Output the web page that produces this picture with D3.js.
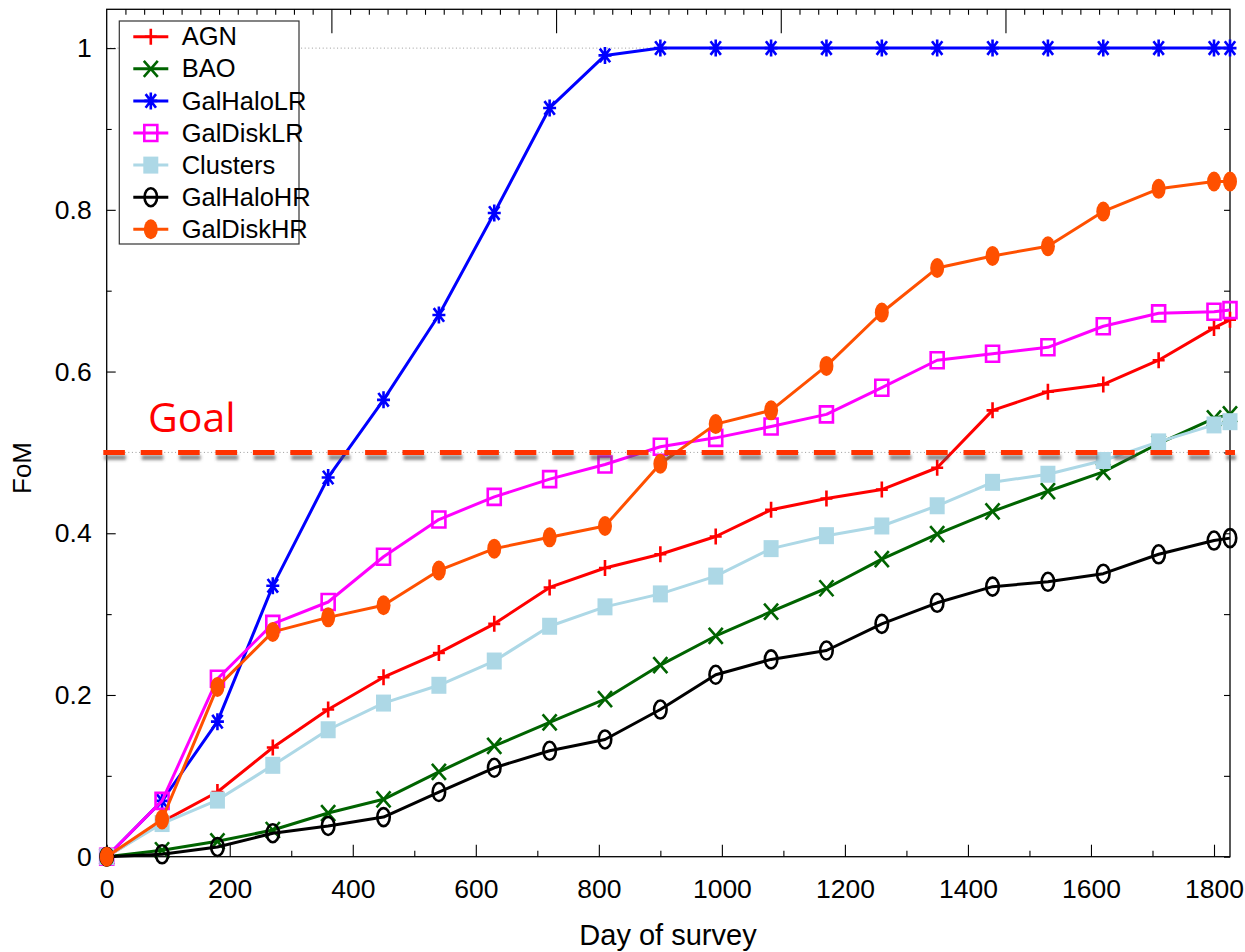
<!DOCTYPE html>
<html>
<head>
<meta charset="utf-8">
<script src="https://cdn.jsdelivr.net/npm/d3@7/dist/d3.min.js"></script>
<style>
  body { margin: 0; background: #fff; }
  svg { display: block; }
</style>
</head>
<body>
<svg id="chart" width="1245" height="952"></svg>
<script>
// Survey day at which each figure of merit was evaluated
const days = [0, 90, 180, 270, 360, 450, 540, 630, 720, 810, 900, 990, 1080, 1170, 1260, 1350, 1440, 1530, 1620, 1710, 1800, 1826];

// Figure of merit per science case
const agn       = [0, 0.043, 0.080, 0.135, 0.182, 0.222, 0.252, 0.288, 0.333, 0.357, 0.374, 0.396, 0.429, 0.443, 0.454, 0.481, 0.552, 0.575, 0.584, 0.614, 0.654, 0.664];
const bao       = [0, 0.008, 0.019, 0.033, 0.054, 0.071, 0.105, 0.137, 0.166, 0.195, 0.237, 0.273, 0.303, 0.332, 0.368, 0.399, 0.427, 0.452, 0.476, 0.511, 0.542, 0.547];
const galHaloLR = [0, 0.069, 0.167, 0.335, 0.469, 0.565, 0.670, 0.796, 0.926, 0.991, 1, 1, 1, 1, 1, 1, 1, 1, 1, 1, 1, 1];
const galDiskLR = [0, 0.069, 0.220, 0.288, 0.315, 0.371, 0.417, 0.445, 0.467, 0.485, 0.507, 0.518, 0.532, 0.547, 0.580, 0.614, 0.622, 0.630, 0.656, 0.672, 0.674, 0.676];
const clusters  = [0, 0.041, 0.070, 0.113, 0.157, 0.190, 0.212, 0.242, 0.285, 0.309, 0.325, 0.347, 0.381, 0.397, 0.409, 0.434, 0.463, 0.473, 0.490, 0.513, 0.534, 0.538];
const galHaloHR = [0, 0.003, 0.012, 0.029, 0.038, 0.049, 0.080, 0.110, 0.131, 0.145, 0.182, 0.225, 0.244, 0.255, 0.288, 0.314, 0.334, 0.340, 0.350, 0.374, 0.391, 0.394];
const galDiskHR = [0, 0.046, 0.210, 0.278, 0.296, 0.311, 0.354, 0.381, 0.395, 0.409, 0.486, 0.535, 0.552, 0.607, 0.673, 0.728, 0.743, 0.755, 0.798, 0.826, 0.835, 0.835];

const seriesNames = ["AGN", "BAO", "GalHaloLR", "GalDiskLR", "Clusters", "GalHaloHR", "GalDiskHR"];

// Axis ticks and labels
const xMajorTicks = [0, 200, 400, 600, 800, 1000, 1200, 1400, 1600, 1800];
const xMinorTicks = [100, 300, 500, 700, 900, 1100, 1300, 1500, 1700];
const yMajorTicks = [0, 0.2, 0.4, 0.6, 0.8, 1];
const yTickLabels = ["0", "0.2", "0.4", "0.6", "0.8", "1"];
const yMinorTicks = [0.1, 0.3, 0.5, 0.7, 0.9];
const goalValue = 0.5;
const surveyYears = 5;

// Style per series
const styles = {
  AGN:       { color: "#ff0000", marker: "plus",         w: 12, h: 16 },
  BAO:       { color: "#006400", marker: "cross",        w: 14, h: 16 },
  GalHaloLR: { color: "#0000ff", marker: "star",         w: 13, h: 17 },
  GalDiskLR: { color: "#ff00ff", marker: "openSquare",   w: 13, h: 16 },
  Clusters:  { color: "#add8e6", marker: "filledSquare", w: 15, h: 17 },
  GalHaloHR: { color: "#000000", marker: "openCircle",   w: 12.5, h: 18 },
  GalDiskHR: { color: "#ff5000", marker: "filledCircle", w: 14, h: 20 }
};

const seriesValues = [agn, bao, galHaloLR, galDiskLR, clusters, galHaloHR, galDiskHR];
const series = seriesNames.map((name, i) => ({
  name,
  points: days.map((d, j) => ({ day: d, v: seriesValues[i][j] })),
  ...styles[name]
}));

const svg = d3.select("#chart");
const plot = { left: 106.7, right: 1230, top: 9.3, bottom: 856.7 };

const x = d3.scaleLinear().domain([0, 1826]).range([plot.left, plot.right]);
const y = d3.scaleLinear().domain([0, 1.048]).range([plot.bottom, plot.top]);

// Soft drop shadow under the goal line
const defs = svg.append("defs");
const shadow = defs.append("filter").attr("id", "goalShadow")
  .attr("filterUnits", "userSpaceOnUse")
  .attr("x", 0).attr("y", y(goalValue) - 30).attr("width", 1245).attr("height", 60);
shadow.append("feGaussianBlur").attr("in", "SourceAlpha").attr("stdDeviation", 1.8).attr("result", "blur");
shadow.append("feOffset").attr("in", "blur").attr("dx", 1).attr("dy", 5).attr("result", "off");
shadow.append("feFlood").attr("flood-color", "#505050").attr("flood-opacity", 0.65).attr("result", "col");
shadow.append("feComposite").attr("in", "col").attr("in2", "off").attr("operator", "in").attr("result", "sh");
const merge = shadow.append("feMerge");
merge.append("feMergeNode").attr("in", "sh");
merge.append("feMergeNode").attr("in", "SourceGraphic");

const tickFont = "'Liberation Sans Narrow', 'Liberation Sans', sans-serif";

// Dotted reference lines at the goal and at full merit
svg.append("g").selectAll("line").data([goalValue, 1]).join("line")
  .attr("x1", plot.left).attr("x2", plot.right)
  .attr("y1", d => y(d)).attr("y2", d => y(d))
  .attr("stroke", "#9a9a9a").attr("stroke-width", 1).attr("stroke-dasharray", "1,2.6");

// Axes
function styleAxis(g) {
  g.select(".domain").remove();
  g.selectAll(".tick line").attr("stroke", "#000").attr("stroke-width", 1.1);
  g.selectAll(".tick text").attr("fill", "#000").style("font-family", tickFont).style("font-size", "26.5px");
}

svg.append("g").attr("transform", `translate(0,${plot.bottom})`)
  .call(d3.axisBottom(x).tickValues(xMajorTicks).tickSizeInner(-12).tickSizeOuter(0).tickPadding(22.5).tickFormat(d3.format("d")))
  .call(styleAxis);
svg.append("g").attr("transform", `translate(0,${plot.bottom})`)
  .call(d3.axisBottom(x).tickValues(xMinorTicks).tickSizeInner(-6).tickSizeOuter(0).tickFormat(""))
  .call(styleAxis);

svg.append("g").attr("transform", `translate(${plot.left},0)`)
  .call(d3.axisLeft(y).tickValues(yMajorTicks).tickSizeInner(-9).tickSizeOuter(0).tickPadding(15)
    .tickFormat((d, i) => yTickLabels[i]))
  .call(styleAxis);
svg.append("g").attr("transform", `translate(${plot.left},0)`)
  .call(d3.axisLeft(y).tickValues(yMinorTicks).tickSizeInner(-5).tickSizeOuter(0).tickFormat(""))
  .call(styleAxis);

svg.append("g").attr("transform", `translate(${plot.right},0)`)
  .call(d3.axisRight(y).tickValues(yMajorTicks.concat(yMinorTicks)).tickSizeInner(-6).tickSizeOuter(0).tickFormat(""))
  .call(styleAxis);

// Top edge: month ticks, with longer ticks at each year of the survey
const daysPerYear = 365.25;
const monthTicks = d3.range(1, surveyYears * 12).filter(m => m % 12 !== 0).map(m => m * daysPerYear / 12);
const yearTicks = d3.range(1, surveyYears).map(k => k * daysPerYear);
svg.append("g").attr("transform", `translate(0,${plot.top})`)
  .call(d3.axisTop(x).tickValues(monthTicks).tickSizeInner(-5.5).tickSizeOuter(0).tickFormat(""))
  .call(styleAxis);
svg.append("g").attr("transform", `translate(0,${plot.top})`)
  .call(d3.axisTop(x).tickValues(yearTicks).tickSizeInner(-24).tickSizeOuter(0).tickFormat(""))
  .call(styleAxis);

// Plot frame
svg.append("rect")
  .attr("x", plot.left).attr("y", plot.top)
  .attr("width", plot.right - plot.left).attr("height", plot.bottom - plot.top)
  .attr("fill", "none").attr("stroke", "#000").attr("stroke-width", 1.3);

// Marker shapes, sized by full width w and height h
function markerPath(type, w, h) {
  const a = w / 2, b = h / 2;
  switch (type) {
    case "plus": return `M${-a},0H${a}M0,${-b}V${b}`;
    case "cross": return `M${-a},${-b}L${a},${b}M${-a},${b}L${a},${-b}`;
    case "star": return `M${-a},0H${a}M0,${-b}V${b}M${-a * 0.8},${-b * 0.8}L${a * 0.8},${b * 0.8}M${-a * 0.8},${b * 0.8}L${a * 0.8},${-b * 0.8}`;
    case "openSquare":
    case "filledSquare": return `M${-a},${-b}H${a}V${b}H${-a}Z`;
    case "openCircle":
    case "filledCircle":
      return `M${-a},0A${a},${b} 0 1,0 ${a},0A${a},${b} 0 1,0 ${-a},0Z`;
  }
}
function drawMarker(sel, s) {
  const filled = s.marker === "filledSquare" || s.marker === "filledCircle";
  sel.attr("d", markerPath(s.marker, s.w, s.h))
    .attr("fill", filled ? s.color : "none")
    .attr("stroke", filled ? "none" : s.color)
    .attr("stroke-width", 2.6);
}

// Series lines and markers
const line = d3.line().x(d => x(d.day)).y(d => y(d.v));
const seriesG = svg.append("g");
series.forEach(s => {
  const g = seriesG.append("g");
  g.append("path").datum(s.points)
    .attr("d", line).attr("fill", "none")
    .attr("stroke", s.color).attr("stroke-width", 3).attr("stroke-linejoin", "round");
  g.selectAll("path.mk").data(s.points).join("path").attr("class", "mk")
    .attr("transform", d => `translate(${x(d.day)},${y(d.v)})`)
    .call(drawMarker, s);
});

// Legend
const legend = svg.append("g");
legend.append("rect").attr("x", 119.3).attr("y", 21).attr("width", 179.7).attr("height", 223)
  .attr("fill", "#fff").attr("stroke", "#333").attr("stroke-width", 1.2);
const rowY = i => 36.7 + i * 32.1;
series.forEach((s, i) => {
  const cy = rowY(i);
  legend.append("line").attr("x1", 133.3).attr("x2", 168.3).attr("y1", cy).attr("y2", cy)
    .attr("stroke", s.color).attr("stroke-width", 3);
  legend.append("path").attr("transform", `translate(150.8,${cy})`).call(drawMarker, s);
  legend.append("text").attr("x", 181.7).attr("y", cy + 8.6)
    .style("font-family", tickFont).style("font-size", "25.5px").attr("fill", "#000")
    .text(s.name);
});

// Goal line and label
svg.append("line")
  .attr("x1", x(0) - 3.4).attr("x2", x(1826) + 5)
  .attr("y1", y(goalValue)).attr("y2", y(goalValue))
  .attr("stroke", "#ff3300").attr("stroke-width", 5)
  .attr("stroke-dasharray", "21.6,15.8")
  .attr("filter", "url(#goalShadow)");
svg.append("text").attr("x", 148).attr("y", 432)
  .style("font-family", "'Open Sans', sans-serif").style("font-size", "41px")
  .attr("fill", "#ff0000").text("Goal");

// Axis titles
svg.append("text").attr("x", 668).attr("y", 945).attr("text-anchor", "middle")
  .style("font-family", tickFont).style("font-size", "29px").attr("fill", "#000")
  .text("Day of survey");
svg.append("text").attr("transform", "translate(31,468) rotate(-90)").attr("text-anchor", "middle")
  .style("font-family", tickFont).style("font-size", "26px").attr("fill", "#000")
  .text("FoM");
</script>
</body>
</html>
